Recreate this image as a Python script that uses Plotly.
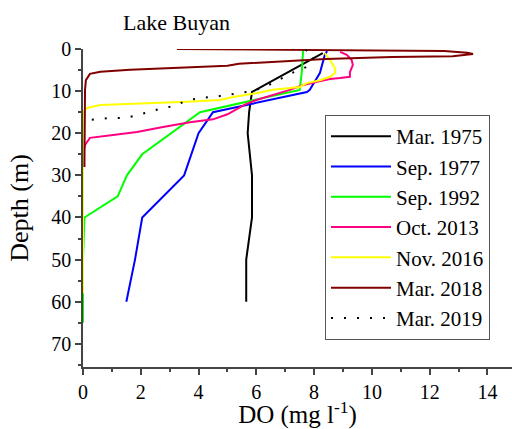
import plotly.graph_objects as go

# ---- data (DO in mg/l, depth in m) ----
do_1975 = [8.3, 5.85, 5.75, 5.7, 5.85, 5.85, 5.65, 5.65]
dep_1975 = [1.0, 10.2, 15, 20, 30, 40, 50, 60]

do_1977 = [8.45, 8.37, 8.2, 8.03, 7.85, 7.75, 4.5, 4.0, 3.5, 2.05, 1.8, 1.5]
dep_1977 = [0.5, 1.4, 5.7, 7.8, 9.7, 10.2, 15, 20, 30, 40, 50, 60]

do_1992 = [7.62, 7.58, 7.5, 4.05, 2.05, 1.52, 1.2, 0.05, 0.0, 0.0]
dep_1992 = [0.2, 5.0, 9.7, 15, 25, 30, 35, 40, 50, 65]

do_2013 = [8.9, 9.13, 9.3, 9.34, 9.24, 9.24, 8.9, 8.55, 8.1, 7.6, 7.16, 6.57, 6.0,
           5.6, 5.0, 4.5, 3.7, 2.77, 1.87, 1.04, 0.24, 0.07, 0.0, 0.0]
dep_2013 = [0.7, 1.4, 2.6, 3.8, 5.5, 6.6, 6.9, 7.1, 7.8, 8.6, 9.7, 10.9, 12.1,
            13.2, 15.5, 16.7, 17.4, 18.5, 19.7, 20.4, 21.1, 22.8, 25, 55]

do_2016 = [8.37, 8.55, 8.72, 8.72, 8.55, 8.2, 7.75, 7.5, 6.57, 6.0, 5.2, 4.74,
           3.6, 2.2, 0.6, 0.14, 0.0, 0.0]
dep_2016 = [1.0, 2.6, 4.5, 5.7, 6.6, 7.4, 8.1, 9.0, 9.7, 10.5, 11.4, 12.1,
            12.5, 12.8, 13.3, 14.0, 15, 58]

do_2018 = [3.25, 8.0, 12.5, 13.3, 13.5, 12.8, 10.7, 8.4, 6.5, 5.4, 5.0, 3.8,
           2.7, 1.63, 0.6, 0.24, 0.1, 0.07, 0.05]
dep_2018 = [0.0, 0.2, 0.5, 0.9, 1.2, 1.7, 1.9, 2.4, 3.0, 3.5, 4.0, 4.3,
            4.6, 4.9, 5.4, 5.9, 7.4, 9.7, 28]

do_2019 = [7.7, 8.0, 7.9, 7.3, 6.7, 6.3, 5.85, 5.4, 5.0, 4.5, 4.05, 3.56, 3.18,
           2.66, 2.25, 1.8, 1.35, 0.93, 0.14, 0.0]
dep_2019 = [0.2, 1.4, 3.8, 5.5, 7.6, 9.0, 10.0, 10.5, 10.9, 11.4, 11.6, 12.3, 13.5,
            14.2, 15.0, 15.9, 16.4, 16.4, 16.9, 17.3]

names = ["Mar. 1975", "Sep. 1977", "Sep. 1992", "Oct. 2013", "Nov. 2016", "Mar. 2018", "Mar. 2019"]
xs = [do_1975, do_1977, do_1992, do_2013, do_2016, do_2018, do_2019]
ys = [dep_1975, dep_1977, dep_1992, dep_2013, dep_2016, dep_2018, dep_2019]
colors = ["#000000", "#0000FF", "#00FF00", "#FF0080", "#FFFF00", "#800000", "#000000"]
dashes = ["solid"] * 6 + ["2px,11px"]

SERIF = "Liberation Serif, Times New Roman, serif"

fig = go.Figure()
for n, x, y, c, d in zip(names, xs, ys, colors, dashes):
    fig.add_trace(go.Scatter(x=x, y=y, mode="lines", name=n,
                             line=dict(color=c, width=2, dash=d)))

axis_common = dict(showline=True, linecolor="#444", linewidth=1.5, showgrid=False,
                   zeroline=False, ticks="outside", ticklen=6, tickwidth=1.5,
                   tickcolor="#444", tickfont=dict(family=SERIF, size=20, color="#000"))

fig.update_layout(
    width=512, height=429,
    margin=dict(l=83, r=0, t=49, b=62),
    paper_bgcolor="white", plot_bgcolor="white",
    font=dict(family=SERIF, color="#000"),
    title=dict(text="Lake Buyan", x=123/512, xanchor="left", xref="container",
               y=1 - 22/429, yanchor="middle", yref="container",
               font=dict(family=SERIF, size=22, color="#000")),
    xaxis=dict(range=[0, 14.85], dtick=2, tick0=0,
               minor=dict(dtick=1, ticks="outside", ticklen=3, tickcolor="#444"),
               title=dict(text="DO (mg l<sup>-1</sup>)",
                          font=dict(family=SERIF, size=25, color="#000"), standoff=4),
               **axis_common),
    yaxis=dict(range=[75.5, 0], dtick=10, tick0=0,
               minor=dict(dtick=5, ticks="outside", ticklen=3, tickcolor="#444"),
               title=dict(text="Depth (m)",
                          font=dict(family=SERIF, size=26, color="#000"), standoff=15),
               **axis_common),
    legend=dict(x=(325-83)/429, y=(367-115)/318, xanchor="left", yanchor="top",
                bgcolor="white", bordercolor="#555", borderwidth=1,
                font=dict(family=SERIF, size=21, color="#000"), itemwidth=60,
                tracegroupgap=0),
    showlegend=True,
)

fig.write_html("out.html")
